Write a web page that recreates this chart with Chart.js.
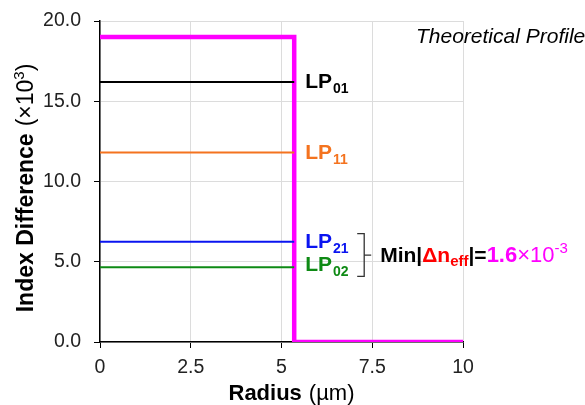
<!DOCTYPE html>
<html>
<head>
<meta charset="utf-8">
<script src="https://cdn.jsdelivr.net/npm/chart.js@4.4.1/dist/chart.umd.min.js"></script>
<style>
  html, body { margin: 0; padding: 0; background: #fff; }
  #wrap { width: 585px; height: 405px; }
</style>
</head>
<body>
<div id="wrap"><canvas id="myChart" width="585" height="405"></canvas></div>
<script>
(function (global) {
    var FONT = '"Liberation Sans", Arial, sans-serif';

    // step-index profile
    var profileRadius = [0, 5.35, 5.35, 10];
    var profileIndex = [19, 19, 0, 0];

    // guided modes, drawn from r = 0 to the core edge
    var modeNames = ['01', '11', '21', '02'];
    var modeIndex = [16.2, 11.8, 6.25, 4.65];
    var coreRadius = 5.35;

    var xTicks = [0, 2.5, 5, 7.5, 10];
    var yTicks = [0, 5, 10, 15, 20];

    var MODE_COLOR = ['#000000', '#f4731f', '#0a14f0', '#0e8a14'];
    var LABEL_DY = [6, 6, 6, 4];
    var MAGENTA = '#ff00ff';

    function run(ctx, x, y, parts) {
        parts.forEach(function (p) {
            ctx.font = p.font;
            ctx.fillStyle = p.color;
            ctx.fillText(p.text, x, y + (p.dy || 0));
            x += ctx.measureText(p.text).width + (p.gap || 0);
        });
        return x;
    }

    function width(ctx, parts) {
        var w = 0;
        parts.forEach(function (p) {
            ctx.font = p.font;
            w += ctx.measureText(p.text).width + (p.gap || 0);
        });
        return w;
    }

    var annotations = {
        id: 'annotations',
        afterDraw: function (chart) {
            var ctx = chart.ctx,
                xs = chart.scales.x,
                ys = chart.scales.y,
                lx = xs.getPixelForValue(coreRadius) + 11,
                parts, w;

            ctx.save();
            ctx.textBaseline = 'alphabetic';
            ctx.textAlign = 'left';

            modeIndex.forEach(function (v, i) {
                run(ctx, lx, ys.getPixelForValue(v) + LABEL_DY[i], [
                    {text: 'LP', font: 'bold 21px ' + FONT, color: MODE_COLOR[i], gap: 1},
                    {text: modeNames[i], font: 'bold 14px ' + FONT, color: MODE_COLOR[i], dy: 5}
                ]);
            });

            // bracket between LP21 and LP02
            var top = ys.getPixelForValue(modeIndex[2]) - 8,
                bot = ys.getPixelForValue(modeIndex[3]) + 9,
                bx = lx + 59,
                mid = (top + bot) / 2;
            ctx.strokeStyle = '#333';
            ctx.lineWidth = 1.3;
            ctx.beginPath();
            ctx.moveTo(bx - 7, top);
            ctx.lineTo(bx, top);
            ctx.lineTo(bx, bot);
            ctx.lineTo(bx - 7, bot);
            ctx.moveTo(bx, mid);
            ctx.lineTo(bx + 7, mid);
            ctx.stroke();

            run(ctx, bx + 16, mid + 7, [
                {text: 'Min|', font: 'bold 21px ' + FONT, color: '#000'},
                {text: 'Δn', font: 'bold 21px ' + FONT, color: '#ff0000'},
                {text: 'eff', font: 'bold 15px ' + FONT, color: '#ff0000', dy: 4},
                {text: '|=', font: 'bold 21px ' + FONT, color: '#000'},
                {text: '1.6', font: 'bold 22px ' + FONT, color: MAGENTA},
                {text: '×10', font: '22px ' + FONT, color: MAGENTA},
                {text: '-3', font: '15px ' + FONT, color: MAGENTA, dy: -9}
            ]);

            run(ctx, 416, 43, [
                {text: 'Theoretical Profile', font: 'italic 21px ' + FONT, color: '#000'}
            ]);

            // x axis title
            parts = [
                {text: 'Radius', font: 'bold 22px ' + FONT, color: '#000', gap: 7},
                {text: '(µm)', font: '22px ' + FONT, color: '#000'}
            ];
            w = width(ctx, parts);
            run(ctx, (xs.left + xs.right) / 2 - w / 2 + 10, 400, parts);

            // y axis title
            parts = [
                {text: 'Index Difference', font: 'bold 23px ' + FONT, color: '#000', gap: 7},
                {text: '(×10', font: '23px ' + FONT, color: '#000'},
                {text: '3', font: '15px ' + FONT, color: '#000', dy: -9},
                {text: ')', font: '23px ' + FONT, color: '#000'}
            ];
            w = width(ctx, parts);
            ctx.translate(33, 188);
            ctx.rotate(-Math.PI / 2);
            run(ctx, -w / 2, 0, parts);

            ctx.restore();
        }
    };

    var datasets = modeIndex.map(function (v, i) {
        return {
            label: 'LP' + modeNames[i],
            data: [{x: 0, y: v}, {x: coreRadius, y: v}],
            borderColor: MODE_COLOR[i],
            borderWidth: 2,
            pointRadius: 0,
            fill: false
        };
    });
    datasets.push({
        label: 'Profile',
        data: profileRadius.map(function (r, i) { return {x: r, y: profileIndex[i]}; }),
        borderColor: MAGENTA,
        borderWidth: 4.5,
        pointRadius: 0,
        fill: false,
        borderJoinStyle: 'miter'
    });

    new Chart(document.getElementById('myChart').getContext('2d'), {
        type: 'line',
        data: {datasets: datasets},
        plugins: [annotations],
        options: {
            responsive: false,
            animation: false,
            layout: {padding: {left: 0, right: 122, top: 21, bottom: 0}},
            plugins: {legend: {display: false}, tooltip: {enabled: false}},
            scales: {
                x: {
                    type: 'linear',
                    min: 0,
                    max: 10,
                    afterBuildTicks: function (s) { s.ticks = xTicks.map(function (v) { return {value: v}; }); },
                    afterFit: function (s) { s.height = 63; s.paddingLeft = 0; s.paddingRight = 0; },
                    grid: {color: '#dcdcdc', lineWidth: 1, tickColor: '#000', tickLength: 6},
                    border: {color: '#000', width: 1.5},
                    ticks: {color: '#222', padding: 8, font: {family: FONT, size: 19.5}}
                },
                y: {
                    min: 0,
                    max: 20,
                    afterBuildTicks: function (s) { s.ticks = yTicks.map(function (v) { return {value: v}; }); },
                    afterFit: function (s) { s.width = 100; s.paddingTop = 0; s.paddingBottom = 0; },
                    grid: {color: '#dcdcdc', lineWidth: 1, tickColor: '#000', tickLength: 6},
                    border: {color: '#000', width: 1.5},
                    ticks: {
                        color: '#222',
                        padding: 13,
                        font: {family: FONT, size: 19.5},
                        callback: function (v) { return v.toFixed(1); }
                    }
                }
            }
        }
    });
})(window);
</script>
</body>
</html>
